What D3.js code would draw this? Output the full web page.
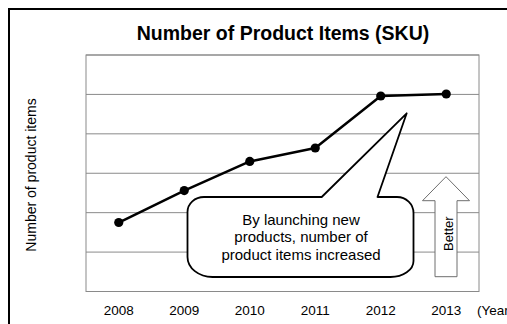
<!DOCTYPE html>
<html>
<head>
<meta charset="utf-8">
<script src="https://cdn.jsdelivr.net/npm/d3@7/dist/d3.min.js"></script>
<style>
  html, body { margin: 0; padding: 0; background: #fff; overflow: hidden; }
  svg { display: block; font-family: Arial, "Liberation Sans", sans-serif; }
</style>
</head>
<body>
<svg id="chart" width="507" height="324"></svg>
<script>
// Product item counts by year (index units, no printed y scale)
const years = ["2008", "2009", "2010", "2011", "2012", "2013"];
const skuValues = [1.75, 2.56, 3.30, 3.64, 4.96, 5.01];
const yTicks = [0, 1, 2, 3, 4, 5, 6];
const calloutLines = ["By launching new", "products, number of", "product items increased"];

const svg = d3.select("#chart");
const plot = { left: 86, right: 479, top: 55, bottom: 291.5 };

// outer chart frame (continues past the visible window)
svg.append("rect")
  .attr("x", 9).attr("y", 9)
  .attr("width", 600).attr("height", 400)
  .attr("fill", "#fff")
  .attr("stroke", "#000").attr("stroke-width", 2);

const x = d3.scaleBand().domain(years).range([plot.left, plot.right]);
const y = d3.scaleLinear().domain([0, 6]).range([plot.bottom, plot.top]);

// horizontal gridlines
svg.append("g")
  .selectAll("line")
  .data(yTicks)
  .join("line")
  .attr("x1", plot.left).attr("x2", plot.right)
  .attr("y1", d => y(d)).attr("y2", d => y(d))
  .attr("stroke", "#8a8a8a").attr("stroke-width", 1);

// plot area border
svg.append("rect")
  .attr("x", plot.left).attr("y", plot.top)
  .attr("width", plot.right - plot.left).attr("height", plot.bottom - plot.top)
  .attr("fill", "none").attr("stroke", "#8a8a8a").attr("stroke-width", 1);

// title
svg.append("text")
  .attr("x", 283).attr("y", 40)
  .attr("text-anchor", "middle")
  .attr("font-size", 19.5).attr("font-weight", "bold")
  .attr("fill", "#000")
  .text("Number of Product Items (SKU)");

// y axis title
svg.append("text")
  .attr("transform", "translate(35.5,175) rotate(-90)")
  .attr("text-anchor", "middle")
  .attr("font-size", 14)
  .attr("fill", "#000")
  .text("Number of product items");

// x axis labels
const xAxis = d3.axisBottom(x).tickSize(0).tickPadding(0);
const gx = svg.append("g").attr("transform", `translate(0,${plot.bottom})`).call(xAxis);
gx.select(".domain").remove();
gx.selectAll("text")
  .attr("font-size", 13.5)
  .attr("font-family", "Arial, 'Liberation Sans', sans-serif")
  .attr("fill", "#000")
  .attr("dy", null)
  .attr("y", 315 - plot.bottom);

// unit label, running off the right edge of the frame
svg.append("text")
  .attr("x", 477).attr("y", 315)
  .attr("font-size", 13.5)
  .attr("fill", "#000")
  .text("(Year)");

// series line and markers
const pts = years.map((yr, i) => ({ yr, v: skuValues[i] }));
const cx = d => x(d.yr) + x.bandwidth() / 2;

svg.append("path")
  .datum(pts)
  .attr("fill", "none")
  .attr("stroke", "#000")
  .attr("stroke-width", 2.5)
  .attr("stroke-linejoin", "round")
  .attr("d", d3.line().x(cx).y(d => y(d.v)));

svg.append("g")
  .selectAll("circle")
  .data(pts)
  .join("circle")
  .attr("cx", cx).attr("cy", d => y(d.v))
  .attr("r", 4.6)
  .attr("fill", "#000");

// speech-bubble callout pointing at the 2012 jump
const cb = { l: 187.5, r: 413.5, t: 197, b: 277 };
const tip = { x: 406.7, y: 113.3 };
const calloutPath = [
  `M ${cb.l + 16.5},${cb.t}`,
  `L 321.7,${cb.t}`,
  `L ${tip.x},${tip.y}`,
  `L 377.5,${cb.t}`,
  `L ${cb.r - 16.5},${cb.t}`,
  `A 16.5 16 0 0 1 ${cb.r},${cb.t + 16}`,
  `L ${cb.r},${cb.b - 16}`,
  `A 23 16 0 0 1 ${cb.r - 23},${cb.b}`,
  `L ${cb.l + 25},${cb.b}`,
  `A 25 20 0 0 1 ${cb.l},${cb.b - 20}`,
  `L ${cb.l},${cb.t + 15}`,
  `A 16.5 15 0 0 1 ${cb.l + 16.5},${cb.t}`,
  "Z"
].join(" ");

svg.append("path")
  .attr("d", calloutPath)
  .attr("fill", "#fff")
  .attr("stroke", "#000")
  .attr("stroke-width", 1.8)
  .attr("stroke-linejoin", "round");

svg.append("g")
  .selectAll("text")
  .data(calloutLines)
  .join("text")
  .attr("x", 301)
  .attr("y", (d, i) => 224.5 + i * 17.5)
  .attr("text-anchor", "middle")
  .attr("font-size", 15)
  .attr("fill", "#000")
  .text(d => d);

// "Better" upward arrow
const ar = { cx: 446, tipY: 176.7, headY: 200.7, bottom: 276.7, halfBody: 11, halfHead: 23.5 };
const arrowPath = [
  `M ${ar.cx},${ar.tipY}`,
  `L ${ar.cx + ar.halfHead},${ar.headY}`,
  `L ${ar.cx + ar.halfBody},${ar.headY}`,
  `L ${ar.cx + ar.halfBody},${ar.bottom}`,
  `L ${ar.cx - ar.halfBody},${ar.bottom}`,
  `L ${ar.cx - ar.halfBody},${ar.headY}`,
  `L ${ar.cx - ar.halfHead},${ar.headY}`,
  "Z"
].join(" ");

svg.append("path")
  .attr("d", arrowPath)
  .attr("fill", "#fff")
  .attr("stroke", "#6e6e6e")
  .attr("stroke-width", 1);

svg.append("text")
  .attr("transform", `translate(${ar.cx + 6.5},233.7) rotate(-90)`)
  .attr("text-anchor", "middle")
  .attr("font-size", 13)
  .attr("fill", "#000")
  .text("Better");
</script>
</body>
</html>
